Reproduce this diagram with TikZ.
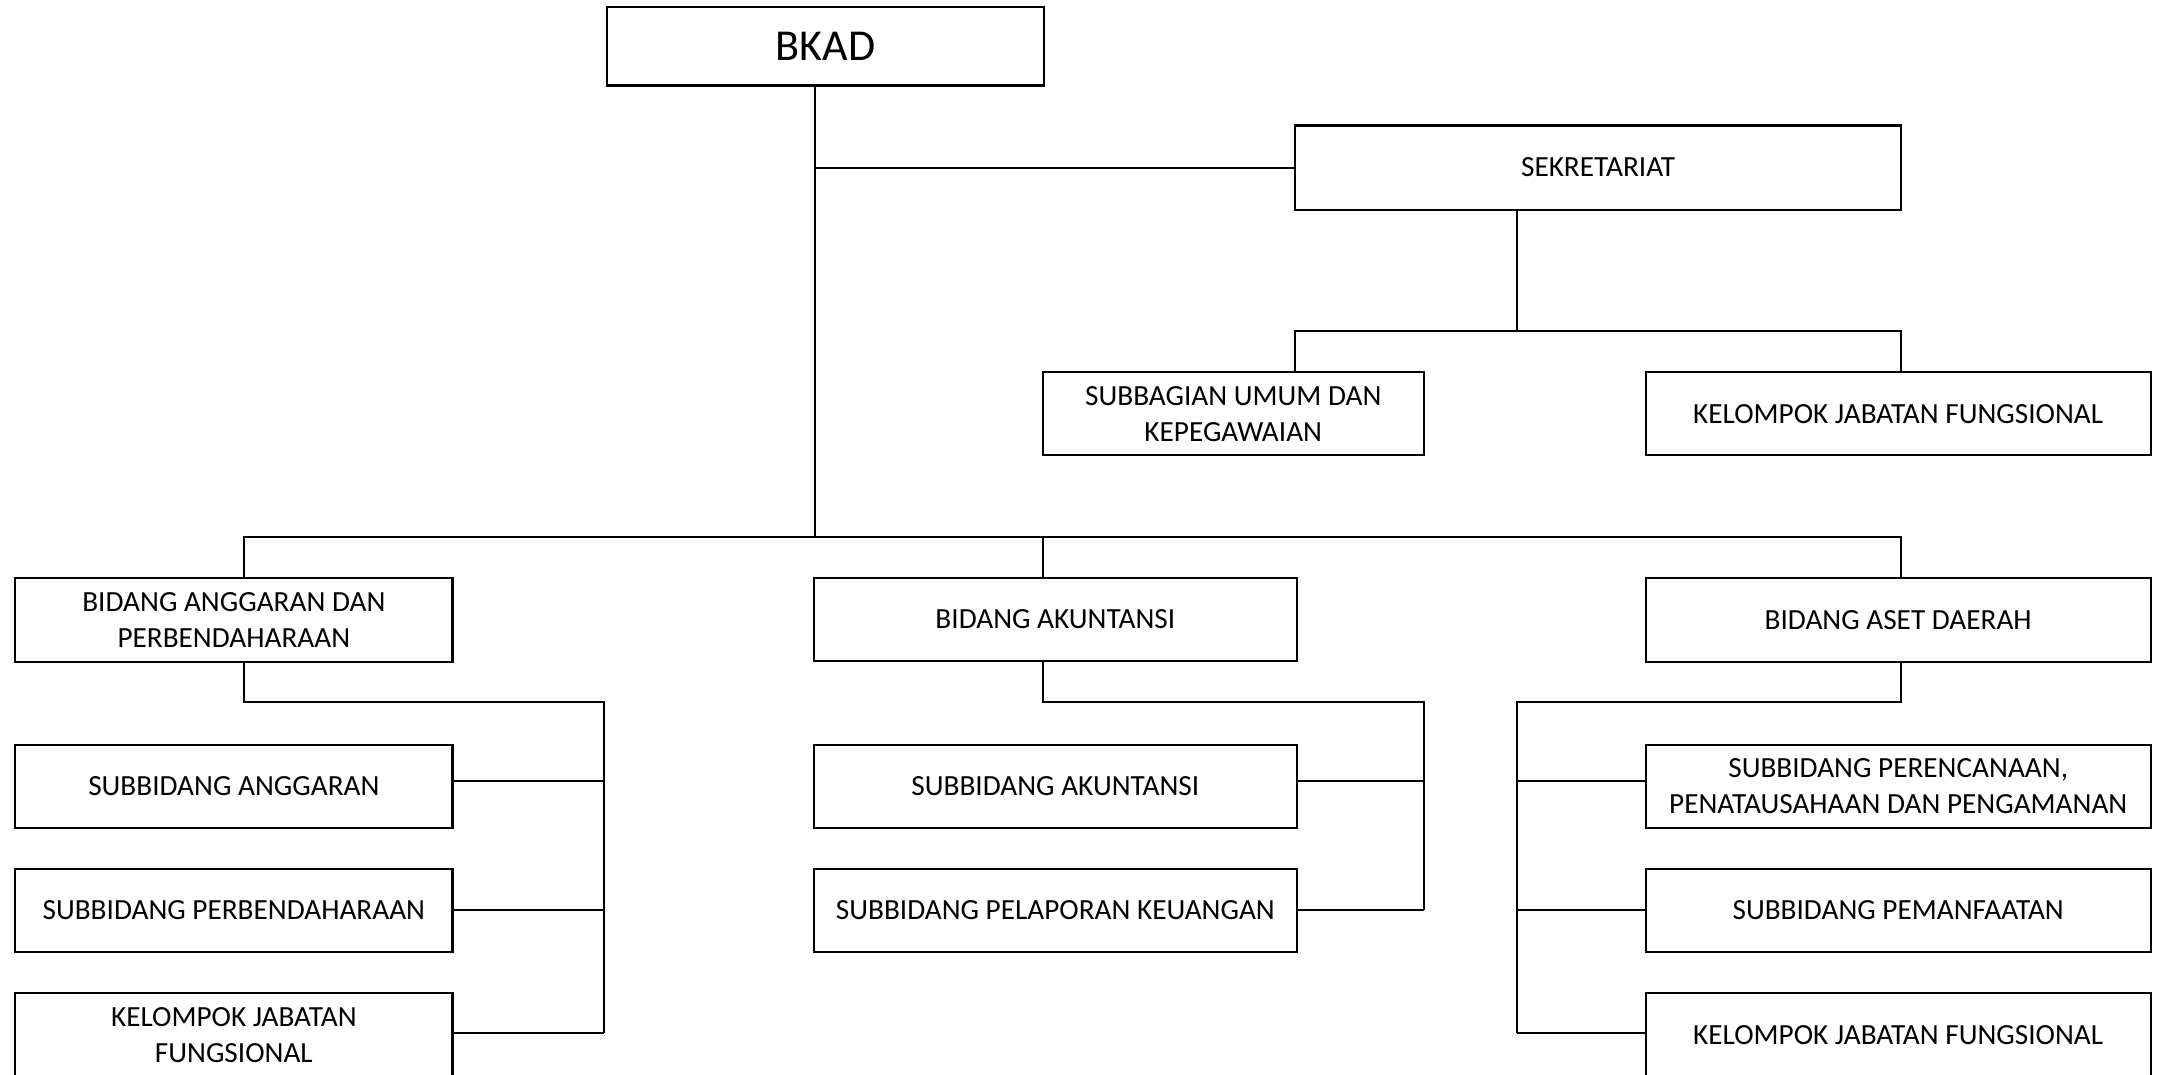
\documentclass[tikz,border=0pt]{standalone}
\usepackage{fontspec}
\setmainfont{Carlito}
\begin{document}
\begin{tikzpicture}[x=0.5pt,y=-0.5pt,
  box/.style={draw=black,line width=0.75pt,rectangle,inner sep=0pt,outer sep=0pt,
    align=center,font=\fontsize{10.6}{12.9}\selectfont},
  conn/.style={draw=black,line width=0.75pt}]
\useasboundingbox (0,0) rectangle (1568,779);
\clip (0,0) rectangle (1568,779);
% top
\node[box,minimum width=158.5pt,minimum height=28.5pt,font=\fontsize{16}{19}\selectfont] (bkad) at (598.5,33.5) {BKAD};
\node[box,minimum width=219.5pt,minimum height=30.5pt] (sek) at (1158.5,121.5) {SEKRETARIAT};
\node[box,minimum width=138pt,minimum height=30pt] (subum) at (894,300) {SUBBAGIAN UMUM DAN\\KEPEGAWAIAN};
\node[box,minimum width=183pt,minimum height=30pt] (kjf1) at (1376,300) {KELOMPOK JABATAN FUNGSIONAL};
% bidang
\node[box,minimum width=158.5pt,minimum height=30.5pt] (bang) at (169.5,449.5) {BIDANG ANGGARAN DAN\\PERBENDAHARAAN};
\node[box,minimum width=175pt,minimum height=30pt] (bak) at (765,449) {BIDANG AKUNTANSI};
\node[box,minimum width=183pt,minimum height=30.5pt] (baset) at (1376,449.5) {BIDANG ASET DAERAH};
% subbidang left
\node[box,minimum width=158.5pt,minimum height=30pt] (sang) at (169.5,570) {SUBBIDANG ANGGARAN};
\node[box,minimum width=158.5pt,minimum height=30pt] (sperb) at (169.5,660) {SUBBIDANG PERBENDAHARAAN};
\node[box,minimum width=158.5pt,minimum height=30.5pt] (kjf2) at (169.5,750.5) {KELOMPOK JABATAN\\FUNGSIONAL};
% subbidang middle
\node[box,minimum width=175pt,minimum height=30pt] (sakun) at (765,570) {SUBBIDANG AKUNTANSI};
\node[box,minimum width=175pt,minimum height=30pt] (spel) at (765,660) {SUBBIDANG PELAPORAN KEUANGAN};
% subbidang right
\node[box,minimum width=183pt,minimum height=30pt] (sper) at (1376,570) {SUBBIDANG PERENCANAAN,\\PENATAUSAHAAN DAN PENGAMANAN};
\node[box,minimum width=183pt,minimum height=30pt] (spem) at (1376,660) {SUBBIDANG PEMANFAATAN};
\node[box,minimum width=183pt,minimum height=30.5pt] (kjf3) at (1376,750.5) {KELOMPOK JABATAN FUNGSIONAL};
% junction coordinates
\coordinate (t1) at (591,389);
\coordinate (s1) at (1100,240);
\coordinate (ca) at (177,509);
\coordinate (cb) at (756,509);
\coordinate (cc) at (1378,509);
\coordinate (ra) at (438,749);
\coordinate (rb) at (1032,660);
\coordinate (rc) at (1100,749);
% trunk
\draw[conn] (bkad.south -| t1) -- (t1);
\draw[conn] (sek.west) -- (sek.west -| t1);
% sekretariat
\draw[conn] (sek.south -| s1) -- (s1);
\draw[conn] (subum.north -| sek.west) |- (s1) -- (s1 -| sek.east) -- (kjf1.north -| sek.east);
% bidang level
\draw[conn] (bang.north -| ca) |- (t1) -| (bak.north -| cb);
\draw[conn] (t1 -| cb) -| (baset.north -| cc);
% anggaran branch
\draw[conn] (bang.south -| ca) -- (ca) -| (ra);
\draw[conn] ([yshift=2pt]sang.east) -- ([yshift=2pt]sang.east -| ra);
\draw[conn] (sperb.east) -- (sperb.east -| ra);
\draw[conn] (kjf2.east |- ra) -- (ra);
% akuntansi branch
\draw[conn] (bak.south -| cb) -- (cb) -| (rb);
\draw[conn] ([yshift=2pt]sakun.east) -- ([yshift=2pt]sakun.east -| rb);
\draw[conn] (spel.east) -- (rb);
% aset branch
\draw[conn] (baset.south -| cc) -- (cc) -| (rc);
\draw[conn] ([yshift=2pt]sper.west) -- ([yshift=2pt]sper.west -| rc);
\draw[conn] (spem.west) -- (spem.west -| rc);
\draw[conn] (kjf3.west |- rc) -- (rc);
\end{tikzpicture}
\end{document}
